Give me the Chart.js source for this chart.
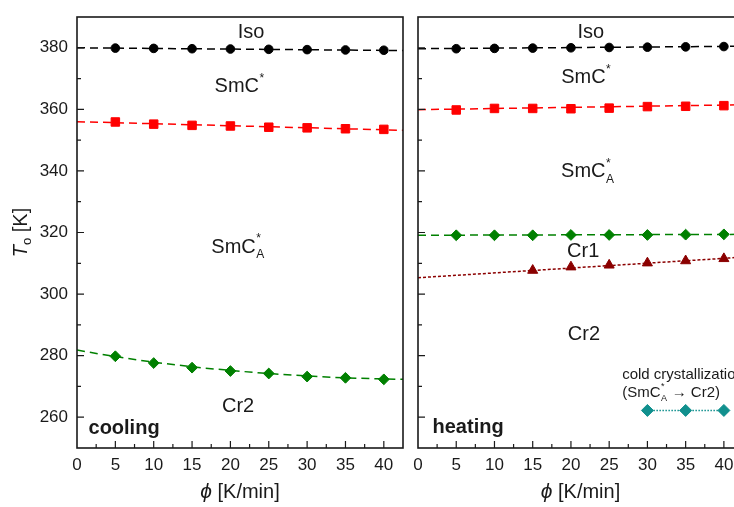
<!DOCTYPE html>
<html>
<head>
<meta charset="utf-8">
<script src="https://cdn.jsdelivr.net/npm/chart.js@4.4.1/dist/chart.umd.min.js"></script>
<style>
  html, body { margin: 0; padding: 0; background: #fff; overflow: hidden; width: 734px; height: 507px; }
  canvas { position: absolute; top: 0; }
  #coolChart { left: 0; }
  #heatChart { left: 410px; }
</style>
</head>
<body>
<canvas id="coolChart" width="410" height="507"></canvas>
<canvas id="heatChart" width="340" height="507"></canvas>
<script>
// heating / cooling rates (K/min)
const rates = [5, 10, 15, 20, 25, 30, 35, 40];
const triRates = [15, 20, 25, 30, 35, 40];
const coldRates = [30, 35, 40];

// cooling: onset temperatures (K)
const coolIso = [379.9, 379.8, 379.7, 379.6, 379.5, 379.4, 379.3, 379.2];
const coolSmC = [355.9, 355.2, 354.8, 354.6, 354.2, 354.0, 353.7, 353.5];
const coolCr = [279.8, 277.6, 276.1, 275.0, 274.2, 273.2, 272.8, 272.3];

// heating: onset temperatures (K)
const heatIso = [379.7, 379.8, 379.9, 380.0, 380.1, 380.2, 380.3, 380.4];
const heatSmC = [359.8, 360.3, 360.3, 360.2, 360.4, 360.9, 361.0, 361.2];
const heatCr1 = [319.1, 319.1, 319.1, 319.2, 319.2, 319.2, 319.3, 319.4];
const heatCr2 = [307.7, 308.8, 309.4, 310.1, 310.8, 311.5];
const coldCryst = [262.2, 262.2, 262.2];

// fit lines
const fitEnds = [0, 42.5];
const coolIsoFit = [380.0, 379.1];
const coolSmCFit = [356.0, 353.2];
const coolCrFitX = [0, 5, 10, 15, 20, 25, 30, 35, 42.5];
const coolCrFit = [281.8, 279.7, 277.9, 276.4, 275.2, 274.2, 273.4, 272.8, 272.3];
const heatIsoFit = [379.7, 380.5];
const heatSmCFit = [359.9, 361.5];
const heatCr1Fit = [319.1, 319.4];
const heatCr2Fit = [305.3, 312.0];

// axis ranges and tick labels
const xMin = 0, xMax = 42.5, xStep = 2.5;
const xLabels = [0, 5, 10, 15, 20, 25, 30, 35, 40];
const yMin = 250, yMax = 390, yStep = 10;
const yLabels = [260, 280, 300, 320, 340, 360, 380];

// phase labels (in data coordinates)
const coolText = [
  { t: "Iso", x: 22.7, y: 385 },
  { t: "SmC", sup: "*", x: 21.2, y: 367.3 },
  { t: "SmC", sup: "*", sub: "A", x: 21.0, y: 315.2 },
  { t: "Cr2", x: 21.0, y: 263.5 },
  { t: "cooling", bold: true, left: true, x: 1.5, y: 256.3 }
];
const heatText = [
  { t: "Iso", x: 22.6, y: 385 },
  { t: "SmC", sup: "*", x: 22.0, y: 370.3 },
  { t: "SmC", sup: "*", sub: "A", x: 22.2, y: 339.7 },
  { t: "Cr1", x: 21.6, y: 313.9 },
  { t: "Cr2", x: 21.7, y: 286.8 },
  { t: "heating", bold: true, left: true, x: 1.9, y: 256.7 },
  { t: "cold crystallization", small: true, left: true, x: 26.7, y: 273.8 },
  { t: "(SmC", sup: "*", sub: "A", after: " \u2192 Cr2)", small: true, left: true, x: 26.7, y: 268.0 }
];

const FONT = "'Liberation Sans', Arial, sans-serif";
const INK = "#1a1a1a";

function zip(xs, ys) {
  return xs.map((x, i) => ({ x: x, y: ys[i] }));
}

function markers(xs, ys, color, style, radius) {
  return {
    data: zip(xs, ys), showLine: false, pointStyle: style, pointRadius: radius,
    pointBackgroundColor: color, pointBorderColor: color, pointBorderWidth: 1
  };
}

function fit(xs, ys, color, dash, tension) {
  return {
    data: zip(xs, ys), showLine: true, pointRadius: 0, borderColor: color, borderWidth: 1.5,
    borderDash: dash, tension: tension || 0, cubicInterpolationMode: tension ? "monotone" : "default"
  };
}

function drawRich(ctx, item, px, py) {
  const size = item.small ? 15 : 20;
  const weight = item.bold ? "bold " : "";
  const base = weight + size + "px " + FONT;
  const smallF = Math.round(size * 0.6) + "px " + FONT;
  ctx.font = base;
  let w = ctx.measureText(item.t).width;
  let extra = 0;
  ctx.font = smallF;
  if (item.sup || item.sub) {
    extra = Math.max(item.sup ? ctx.measureText(item.sup).width : 0, item.sub ? ctx.measureText(item.sub).width : 0) + 1;
  }
  ctx.font = base;
  const afterW = item.after ? ctx.measureText(item.after).width : 0;
  const total = w + extra + afterW;
  let x = item.left ? px : px - total / 2;
  ctx.fillStyle = INK;
  ctx.textBaseline = "middle";
  ctx.textAlign = "left";
  ctx.font = base;
  ctx.fillText(item.t, x, py);
  x += w;
  ctx.font = smallF;
  if (item.sup) ctx.fillText(item.sup, x + 0.5, py - size * 0.42);
  if (item.sub) ctx.fillText(item.sub, x + 0.5, py + size * 0.38);
  x += extra;
  if (item.after) {
    ctx.font = base;
    ctx.fillText(item.after, x, py);
  }
}

const framePlugin = {
  id: "frame",
  afterDraw(chart) {
    const ctx = chart.ctx;
    const a = chart.chartArea;
    const xs = chart.scales.x, ys = chart.scales.y;
    const cfg = chart.options.plugins.frame;
    ctx.save();
    ctx.strokeStyle = INK;
    // inward ticks
    ctx.lineWidth = 1.2;
    ctx.beginPath();
    ys.ticks.forEach(t => {
      if (t.value <= yMin || t.value >= yMax) return;
      const y = ys.getPixelForValue(t.value);
      const len = yLabels.includes(t.value) ? 7 : 4;
      ctx.moveTo(a.left, y); ctx.lineTo(a.left + len, y);
    });
    xs.ticks.forEach(t => {
      if (t.value <= xMin || t.value >= xMax) return;
      const x = xs.getPixelForValue(t.value);
      const len = xLabels.includes(t.value) ? 7 : 4;
      ctx.moveTo(x, a.bottom); ctx.lineTo(x, a.bottom - len);
    });
    ctx.stroke();
    // frame
    ctx.lineWidth = 1.6;
    ctx.strokeRect(a.left, a.top, a.right - a.left, a.bottom - a.top);
    // phase labels
    cfg.labels.forEach(item => {
      drawRich(ctx, item, xs.getPixelForValue(item.x), ys.getPixelForValue(item.y));
    });
    // x title: italic phi + [K/min]
    ctx.fillStyle = INK;
    ctx.textBaseline = "middle";
    ctx.textAlign = "left";
    const cx = (a.left + a.right) / 2;
    ctx.font = "italic 21px " + FONT;
    const phi = "\u03d5";
    const pw = ctx.measureText(phi).width;
    ctx.font = "20px " + FONT;
    const rest = " [K/min]";
    const rw = ctx.measureText(rest).width;
    let x0 = cx - (pw + rw) / 2;
    ctx.font = "italic 21px " + FONT;
    ctx.fillText(phi, x0, 492);
    ctx.font = "20px " + FONT;
    ctx.fillText(rest, x0 + pw, 492);
    // y title
    if (cfg.yTitle) {
      ctx.translate(21, (a.top + a.bottom) / 2);
      ctx.rotate(-Math.PI / 2);
      ctx.font = "italic 20px " + FONT;
      const tw = ctx.measureText("T").width;
      ctx.font = "13px " + FONT;
      const ow = ctx.measureText("o").width;
      ctx.font = "20px " + FONT;
      const kw = ctx.measureText(" [K]").width;
      let s = -(tw + ow + kw) / 2;
      ctx.font = "italic 20px " + FONT;
      ctx.fillText("T", s, 0);
      ctx.font = "13px " + FONT;
      ctx.fillText("o", s + tw, 6);
      ctx.font = "20px " + FONT;
      ctx.fillText(" [K]", s + tw + ow, 0);
    }
    ctx.restore();
  }
};

function noPad(s) {
  s.paddingLeft = 0; s.paddingRight = 0; s.paddingTop = 0; s.paddingBottom = 0;
}

function makeChart(id, datasets, labels, yWidth, rightPad, showY) {
  new Chart(document.getElementById(id).getContext("2d"), {
    type: "scatter",
    data: { datasets: datasets },
    options: {
      responsive: false,
      animation: false,
      layout: { padding: { left: 0, top: 17, right: rightPad, bottom: 0 } },
      plugins: {
        legend: { display: false },
        tooltip: { enabled: false },
        frame: { labels: labels, yTitle: showY }
      },
      scales: {
        x: {
          type: "linear", min: xMin, max: xMax,
          grid: { display: false, drawTicks: false },
          border: { display: false },
          afterFit: s => { s.height = 59; noPad(s); },
          ticks: {
            stepSize: xStep, autoSkip: false, maxRotation: 0, padding: 7,
            color: INK, font: { family: FONT, size: 17 },
            callback: v => xLabels.includes(v) ? String(v) : ""
          }
        },
        y: {
          type: "linear", min: yMin, max: yMax,
          grid: { display: false, drawTicks: false },
          border: { display: false },
          afterFit: s => { s.width = yWidth; noPad(s); },
          ticks: {
            display: showY, stepSize: yStep, padding: 9,
            color: INK, font: { family: FONT, size: 17 },
            callback: v => yLabels.includes(v) ? String(v) : ""
          }
        }
      }
    },
    plugins: [framePlugin]
  });
}

const dash = [8, 5];
const black = "#000000", red = "#ff0000", green = "#008000", brown = "#8b0000", teal = "#11908e";

makeChart("coolChart", [
  fit(fitEnds, coolIsoFit, black, dash),
  fit(fitEnds, coolSmCFit, red, dash),
  fit(coolCrFitX, coolCrFit, green, dash, 0.4),
  markers(rates, coolIso, black, "circle", 4.3),
  markers(rates, coolSmC, red, "rect", 6),
  markers(rates, coolCr, green, "rectRot", 5.4)
], coolText, 77, 7, true);

makeChart("heatChart", [
  fit(fitEnds, heatIsoFit, black, dash),
  fit(fitEnds, heatSmCFit, red, dash),
  fit(fitEnds, heatCr1Fit, green, dash),
  fit(fitEnds, heatCr2Fit, brown, [3, 2]),
  fit(coldRates, coldCryst, teal, [1.5, 1.5]),
  markers(rates, heatIso, black, "circle", 4.3),
  markers(rates, heatSmC, red, "rect", 6),
  markers(rates, heatCr1, green, "rectRot", 5.4),
  markers(triRates, heatCr2, brown, "triangle", 5.8),
  markers(coldRates, coldCryst, teal, "rectRot", 6)
], heatText, 8, 6, false);
</script>
</body>
</html>
